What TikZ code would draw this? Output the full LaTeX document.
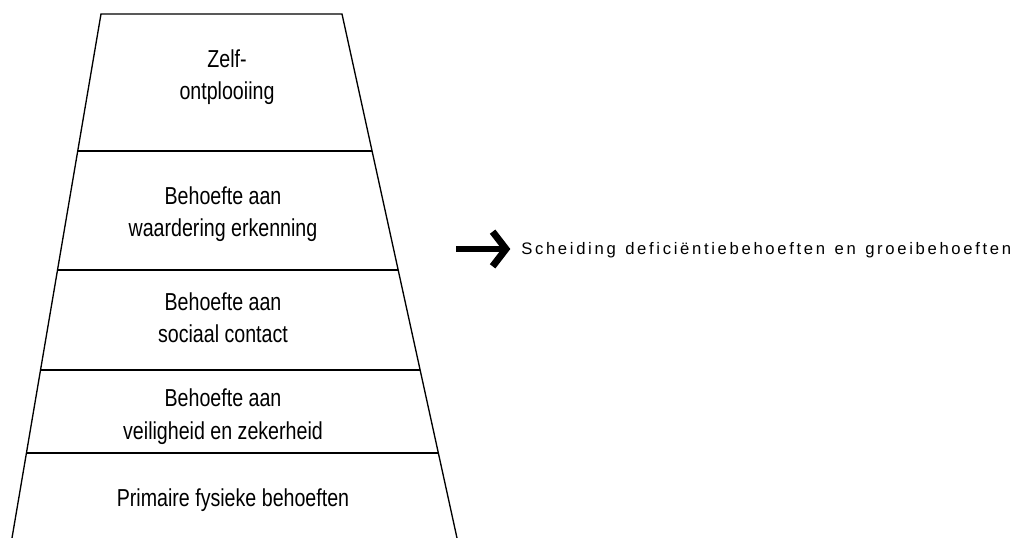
\documentclass[tikz,border=0pt]{standalone}
\usepackage{fontspec}
\usepackage{tikz}
\usetikzlibrary{calc,arrows.meta,positioning}
\newfontfamily\pyrfont[FakeStretch=0.8]{Liberation Sans}
\newfontfamily\notefont[LetterSpace=16,WordSpace=1.3]{Liberation Sans}
\tikzset{
    level text/.style={
        align=center,inner sep=0pt,anchor=base,
        font=\pyrfont\fontsize{18.4}{24.6}\selectfont
    },
    level line/.style={line width=1pt},
    note text/.style={
        inner sep=0pt,anchor=west,
        font=\notefont\fontsize{12.5}{14}\selectfont
    },
    note arrow/.style={
        line width=5.2pt,
        -{Straight Barb[length=10pt,width=26pt]}
    }
}
\begin{document}
\begin{tikzpicture}[x=0.75pt,y=-0.75pt]
\useasboundingbox (0,0) rectangle (1014,538);
% outline of the pyramid
\coordinate (tl) at (101,14);
\coordinate (tr) at (342,14);
\coordinate (bl) at (12,538);
\coordinate (br) at (457,538);
\draw[level line] (bl) -- (tl) -- (tr) -- (br);
\foreach \y in {151,270,370,453}
    \draw[level line] ($(tl)!{(\y-14)/524}!(bl)$) -- ($(tr)!{(\y-14)/524}!(br)$);
% levels (base = last line)
\foreach \i/\x/\y/\txt in {1/227/100/{Zelf-\\ontplooiing},
        2/223/237/{Behoefte aan\\waardering erkenning},
        3/223/343/{Behoefte aan\\sociaal contact},
        4/223/439/{Behoefte aan\\veiligheid en zekerheid},
        5/233/506/{Primaire fysieke behoeften}}
    \node[level text] (level_\i) at (\x,\y) {\txt};
% separation
\node[note text] (scheiding) at (521,250) {Scheiding deficiëntiebehoeften en groeibehoeften};
\coordinate (arrow_tail) at (456,249);
\draw[note arrow,shorten >=8pt] (arrow_tail) -- (arrow_tail -| scheiding.west);
\end{tikzpicture}
\end{document}
